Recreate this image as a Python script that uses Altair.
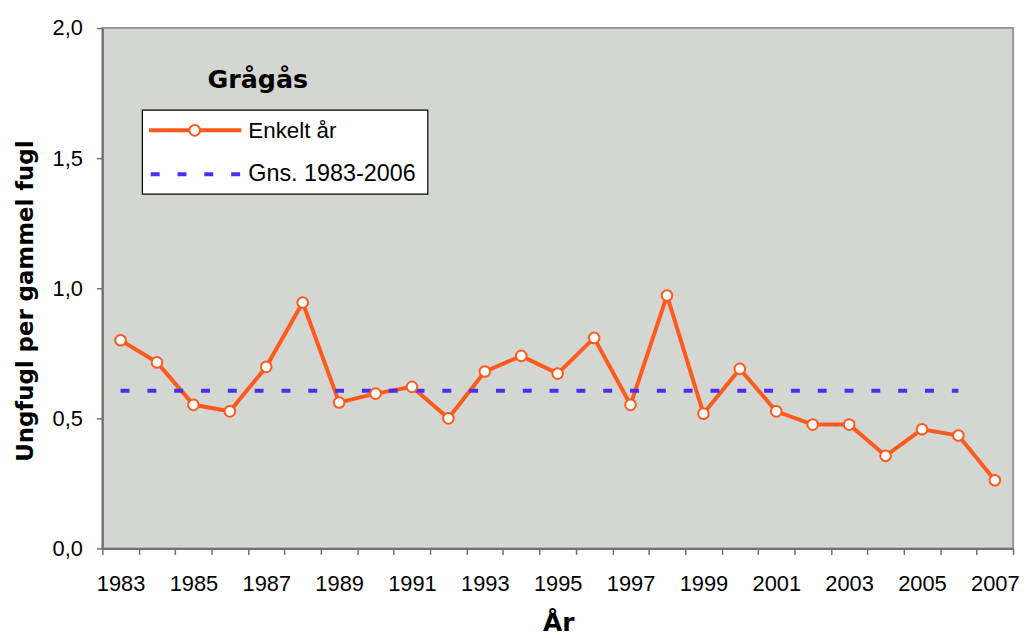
import altair as alt
import pandas as pd

years = list(range(1983, 2008))
enkelt_aar = [0.80, 0.715, 0.552, 0.527, 0.698, 0.945, 0.561, 0.595, 0.621, 0.500,
              0.680, 0.740, 0.672, 0.809, 0.552, 0.972, 0.518, 0.690, 0.527, 0.476,
              0.476, 0.356, 0.458, 0.434, 0.262]
mean_years = list(range(1983, 2007))
mean_value = 0.606
y_ticks = [0.0, 0.5, 1.0, 1.5, 2.0]

ORANGE = "#FF5A1E"
BLUE = "#4A2EF5"
BG = "#D4D6D1"

df = pd.DataFrame({"year": years, "value": enkelt_aar})
df_mean = pd.DataFrame({"year": mean_years, "value": [mean_value] * len(mean_years)})
one = pd.DataFrame({"a": [1]})

xscale = alt.Scale(type="band", paddingInner=0, paddingOuter=0, domain=years)
yscale = alt.Scale(domain=[0, 2])

xaxis = alt.Axis(
    title="År", tickBand="extent",
    labelExpr="datum.value % 2 == 1 ? datum.label : ''",
    labelAngle=0, labelBaseline="alphabetic", labelPadding=36,
    titleX=459, titleY=83, titleBaseline="alphabetic", titleAlign="center",
)
yaxis = alt.Axis(
    title="Ungfugl per gammel fugl", values=y_ticks, format=".1f",
    labelExpr="replace(datum.label, '.', ',')", grid=False,
    labelPadding=14,
    titleX=-70.5, titleY=274.5, titleAngle=270, titleBaseline="alphabetic", titleAlign="center",
)

X = alt.X("year:O", scale=xscale, axis=xaxis, bandPosition=0.5)
Y = alt.Y("value:Q", scale=yscale, axis=yaxis)

line = alt.Chart(df).mark_line(color=ORANGE, strokeWidth=4).encode(x=X, y=Y)
mean_line = alt.Chart(df_mean).mark_line(
    color=BLUE, strokeWidth=4, strokeDash=[9, 18], strokeCap="butt"
).encode(x=X, y=Y)
points = alt.Chart(df).mark_point(
    filled=True, fill="white", stroke=ORANGE, strokeWidth=2, size=115, opacity=1
).encode(x=X, y=Y)

# legend decoration
box = alt.Chart(one).mark_rect(fill="white", stroke="black", strokeWidth=1.2).encode(
    x=alt.value(40.3), x2=alt.value(327.7), y=alt.value(82.7), y2=alt.value(167.3)
)
title = alt.Chart(one).mark_text(
    text="Grågås", font="DejaVu Sans", fontWeight="bold", fontSize=25.5,
    align="center", baseline="alphabetic", color="black"
).encode(x=alt.value(156.5), y=alt.value(60.7))
leg1_line = alt.Chart(one).mark_rule(color=ORANGE, strokeWidth=4).encode(
    x=alt.value(47), x2=alt.value(140), y=alt.value(103)
)
leg1_pt = alt.Chart(one).mark_point(
    filled=True, fill="white", stroke=ORANGE, strokeWidth=2, size=115, opacity=1
).encode(x=alt.value(93), y=alt.value(103))
leg2_line = alt.Chart(one).mark_rule(
    color=BLUE, strokeWidth=4, strokeDash=[9, 18], strokeCap="butt"
).encode(x=alt.value(48.7), x2=alt.value(140), y=alt.value(147.3))
leg1_txt = alt.Chart(one).mark_text(
    text="Enkelt år", font="Liberation Sans", fontSize=22.5, align="left",
    baseline="alphabetic", color="black"
).encode(x=alt.value(147), y=alt.value(110.5))
leg2_txt = alt.Chart(one).mark_text(
    text="Gns. 1983-2006", font="Liberation Sans", fontSize=23.5, align="left",
    baseline="alphabetic", color="black"
).encode(x=alt.value(147), y=alt.value(154))

chart = alt.layer(
    line, mean_line, points, box, title, leg1_line, leg1_pt, leg2_line, leg1_txt, leg2_txt
).properties(
    width=917, height=524,
    autosize=alt.AutoSizeParams(type="none"),
    padding={"left": 95, "top": 18, "right": 8, "bottom": 88},
    background="white",
).configure_view(
    fill=BG, stroke="#9a9a9a", strokeWidth=2
).configure_axis(
    labelFont="Liberation Sans", labelFontSize=22, labelColor="black",
    titleFont="DejaVu Sans", titleFontWeight="bold", titleFontSize=23, titleColor="black",
    domainColor="#707070", domainWidth=2, tickColor="#707070", tickWidth=1.5, tickSize=6,
).configure_axisX(titleFontSize=25)

chart.save("out.html", embed_options={"renderer": "svg", "actions": False})
